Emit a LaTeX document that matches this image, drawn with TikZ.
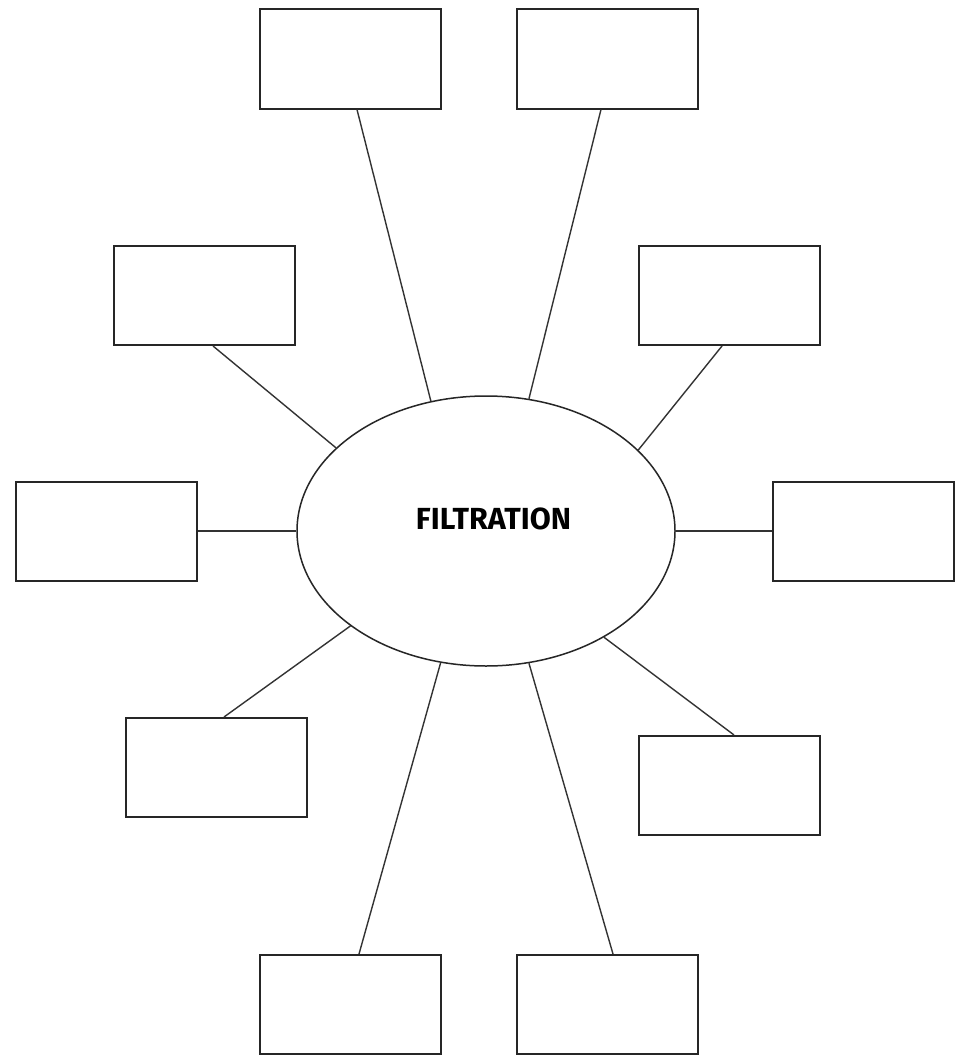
\documentclass[tikz,border=0pt]{standalone}
\usepackage{fontspec}
\newfontfamily\labfont{Fira Sans}
\usetikzlibrary{shapes.geometric}
\tikzset{
  card/.style={draw=black!85, line width=2pt, rectangle, minimum width=181pt, minimum height=99pt, inner sep=0pt},
  hub/.style={draw=black!85, line width=1.5pt, ellipse, minimum width=378pt, minimum height=270pt, inner sep=0pt},
  spoke/.style={draw=black!80, line width=1.4pt},
  lab/.style={font=\labfont\bfseries\fontsize{30.5}{36}\selectfont, inner sep=0pt}
}
\begin{document}
\begin{tikzpicture}[x=1pt,y=-1pt]
\useasboundingbox[fill=white] (0,0) rectangle (961,1057);
\node[hub] (e) at (486,531) {};
\node[lab] (t) at (493.5,519) {FILTRATION};
\node[card] (tl) at (350.5,59) {};
\node[card] (tr) at (607.5,59) {};
\node[card] (ul) at (204.5,295.5) {};
\node[card] (ur) at (729.5,295.5) {};
\node[card] (l) at (106.5,531) {};
\node[card] (r) at (863.5,531) {};
\node[card] (ll) at (216.5,767.5) {};
\node[card] (lr) at (729.5,785.5) {};
\node[card] (bl) at (350.5,1004.5) {};
\node[card] (br) at (607.5,1004.5) {};
\draw[spoke] ([xshift=6.5pt]tl.south) -- (e.113.5);
\draw[spoke] ([xshift=-6.5pt]tr.south) -- (e.72.3);
\draw[spoke] ([xshift=8.5pt]ul.south) -- (e.151.2);
\draw[spoke] ([xshift=-7.5pt]ur.south) -- (e.28.9);
\draw[spoke] (l.east) -- (e.180);
\draw[spoke] (r.west) -- (e.0);
\draw[spoke] ([xshift=7.5pt]ll.north) -- (e.215.5);
\draw[spoke] ([xshift=4.5pt]lr.north) -- (e.318.6);
\draw[spoke] ([xshift=8.5pt]bl.north) -- (e.251.4);
\draw[spoke] ([xshift=5.5pt]br.north) -- (e.288.1);
\end{tikzpicture}
\end{document}
